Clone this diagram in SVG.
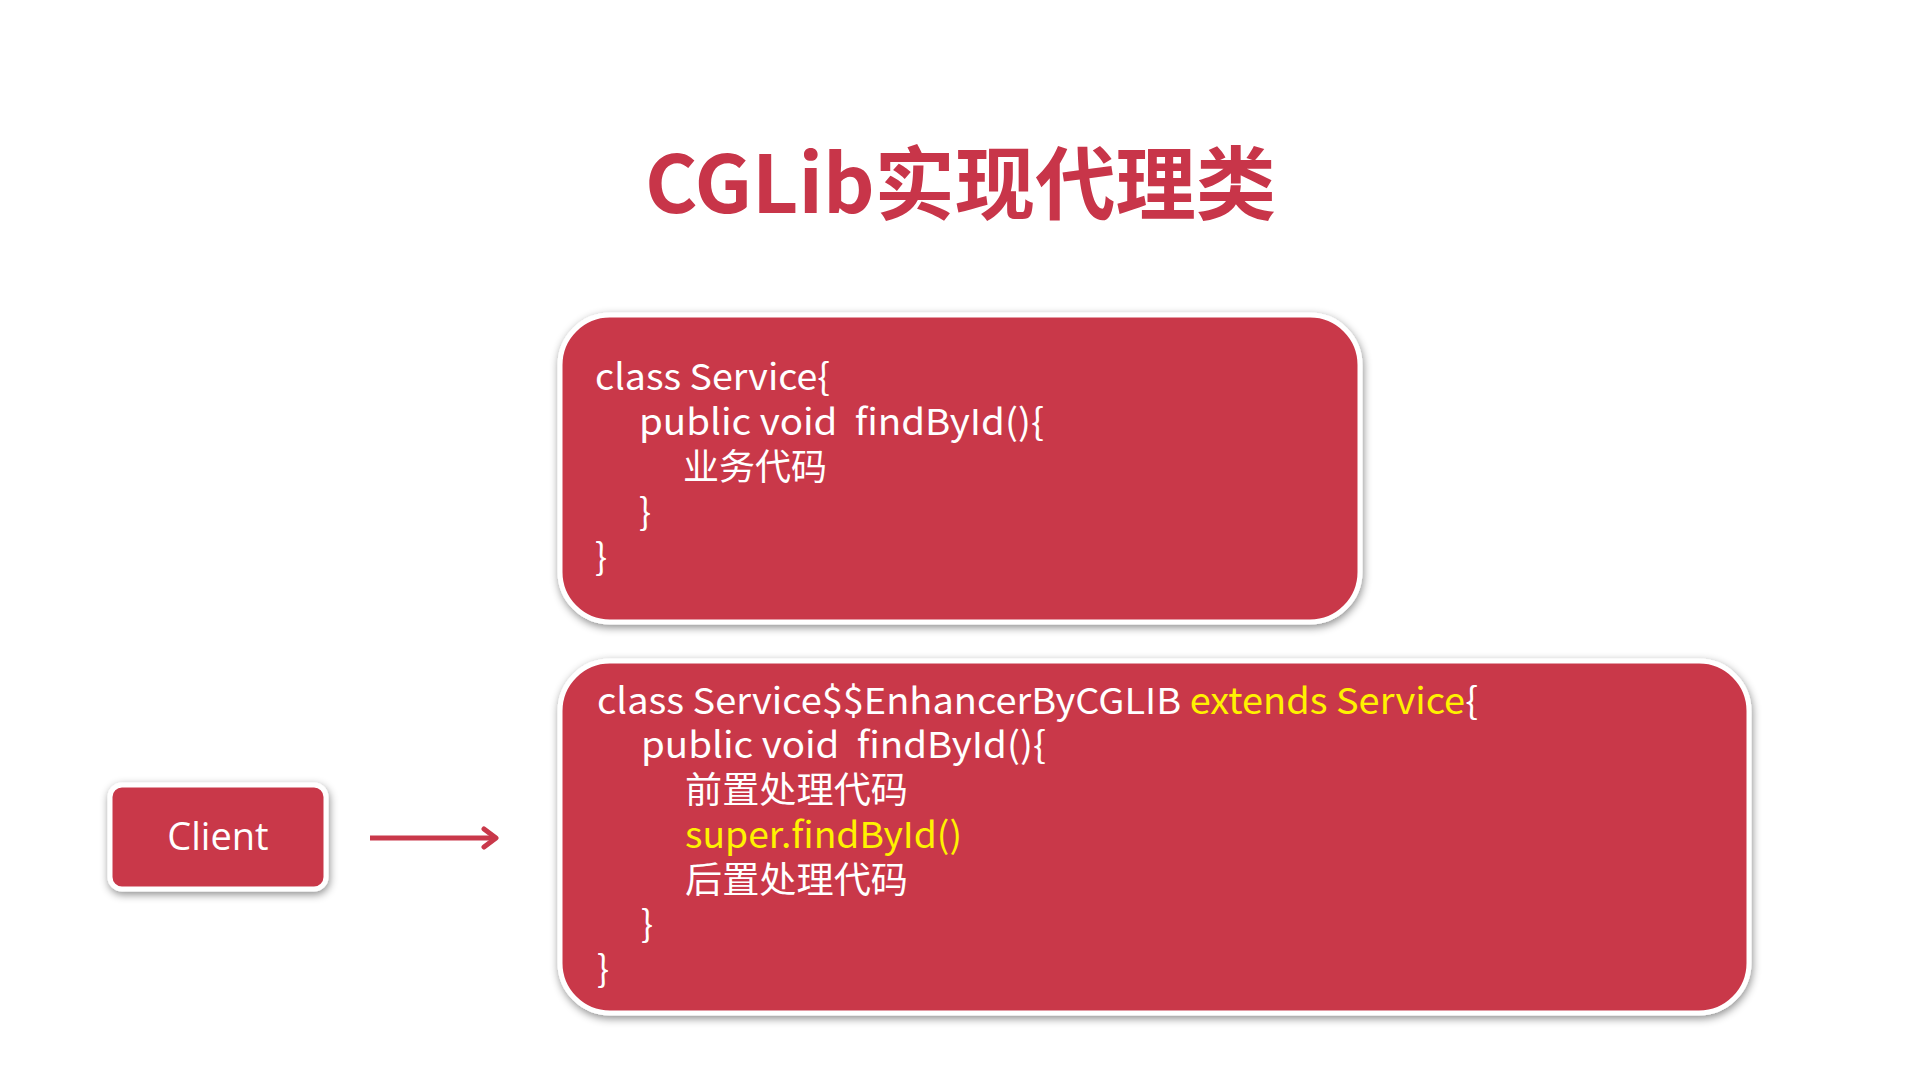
<svg xmlns="http://www.w3.org/2000/svg" width="1920" height="1080" viewBox="0 0 1920 1080">
<defs>
<filter id="sh" x="-10%" y="-10%" width="120%" height="125%">
<feDropShadow dx="1" dy="3" stdDeviation="4" flood-color="#000" flood-opacity="0.45"/>
</filter>
<marker id="arr" markerWidth="20" markerHeight="24" refX="14" refY="12" orient="auto" markerUnits="userSpaceOnUse">
<polyline points="3,3 15,12 3,21" fill="none" stroke="#C9384A" stroke-width="5" stroke-linecap="round" stroke-linejoin="round"/>
</marker>
</defs>
<style>
.box{fill:#C9384A;stroke:#fff;stroke-width:5;filter:url(#sh)}
.code{font-family:"Noto Sans CJK SC","Noto Sans",sans-serif;font-size:36px;fill:#fff;white-space:pre}
.y{fill:#FFF200}
.title{font-family:"Noto Sans CJK SC","Noto Sans",sans-serif;font-size:80px;font-weight:bold;fill:#C83549}
.lbl{font-family:"Open Sans","Noto Sans",sans-serif;font-size:38px;fill:#fff}
</style>
<rect width="1920" height="1080" fill="#fff"/>
<text class="title" x="645" y="213" textLength="631" lengthAdjust="spacingAndGlyphs">CGLib实现代理类</text>

<g id="service">
<rect class="box" x="560" y="315" width="800" height="307" rx="50"/>
<text class="code" x="595" y="390" textLength="235" lengthAdjust="spacingAndGlyphs">class Service{</text>
<text class="code" x="639" y="435" textLength="405" lengthAdjust="spacingAndGlyphs" xml:space="preserve">public void  findById(){</text>
<text class="code" x="683" y="480">业务代码</text>
<text class="code" x="639" y="525">}</text>
<text class="code" x="595" y="570">}</text>
</g>

<g id="enhancer">
<rect class="box" x="560" y="661" width="1189" height="352" rx="50"/>
<text class="code" x="597" y="714" textLength="881" lengthAdjust="spacingAndGlyphs" xml:space="preserve">class Service$$EnhancerByCGLIB <tspan class="y">extends Service</tspan>{</text>
<text class="code" x="641" y="758" textLength="405" lengthAdjust="spacingAndGlyphs" xml:space="preserve">public void  findById(){</text>
<text class="code" x="685" y="803" textLength="223" lengthAdjust="spacingAndGlyphs">前置处理代码</text>
<text class="code y" x="685" y="848" textLength="277" lengthAdjust="spacingAndGlyphs">super.findById()</text>
<text class="code" x="685" y="893" textLength="223" lengthAdjust="spacingAndGlyphs">后置处理代码</text>
<text class="code" x="641" y="937">}</text>
<text class="code" x="597" y="982">}</text>
</g>

<g id="client">
<rect class="box" x="110" y="785" width="216" height="104" rx="12" stroke-width="4"/>
<text class="lbl" x="218" y="850" text-anchor="middle">Client</text>
</g>

<g id="connectors">
<line x1="370" y1="838" x2="495" y2="838" stroke="#C9384A" stroke-width="5" marker-end="url(#arr)"/>
</g>
</svg>
